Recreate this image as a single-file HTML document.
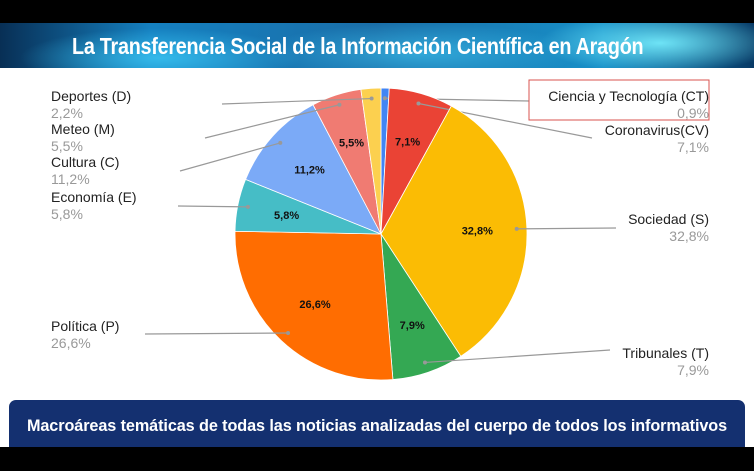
<!DOCTYPE html>
<html><head><meta charset="utf-8">
<style>
body{margin:0;width:754px;height:471px;overflow:hidden;background:#fff;font-family:"Liberation Sans",sans-serif;position:relative}
.blk{position:absolute;left:0;width:754px;background:#000}
#hdr{position:absolute;left:0;top:23px;width:754px;height:45px;
background:radial-gradient(ellipse 120px 30px at 660px 20px,rgba(120,240,255,.9),transparent),radial-gradient(ellipse 140px 30px at 160px 35px,rgba(60,200,245,.8),transparent),radial-gradient(ellipse 160px 30px at 420px 30px,rgba(60,190,235,.7),transparent),linear-gradient(90deg,#082f55,#1580c0 20%,#1a6ea8 50%,#1890c8 80%,#083a66);}
#title{position:absolute;left:72px;top:33px;color:#fff;font:bold 23px "Liberation Sans",sans-serif;white-space:nowrap;transform-origin:left top;transform:scaleX(0.86);letter-spacing:-0.3px}
#ban{position:absolute;left:9px;top:400px;width:736px;height:55px;background:#143070;border-radius:7px}
#bt{position:absolute;left:0;top:416px;width:754px;text-align:center;color:#fff;font:bold 16.6px "Liberation Sans",sans-serif;letter-spacing:-0.1px;transform:scaleX(0.978)}
</style></head><body>
<div class="blk" style="top:0;height:23px"></div>
<div id="hdr"></div>
<div id="title">La Transferencia Social de la Información Científica en Aragón</div>
<svg id="chart" width="754" height="471" style="position:absolute;left:0;top:0"></svg>
<div id="ban"></div>
<div id="bt">Macroáreas temáticas de todas las noticias analizadas del cuerpo de todos los informativos</div>
<div class="blk" style="top:447px;height:24px"></div>
<script>
const categories=["Ciencia y Tecnología (CT)","Coronavirus(CV)","Sociedad (S)","Tribunales (T)","Política (P)","Economía (E)","Cultura (C)","Meteo (M)","Deportes (D)"];
const values=[0.9,7.1,32.8,7.9,26.6,5.8,11.2,5.5,2.2];
const valueLabels=["0,9%","7,1%","32,8%","7,9%","26,6%","5,8%","11,2%","5,5%","2,2%"];
const colors=["#4285f4","#ea4335","#fbbc04","#34a853","#ff6d01","#46bdc6","#7baaf7","#f07b72","#fcd04f"];
// label layout (positions, not data)
const side=["r","r","r","r","l","l","l","l","l"];
const labY=[96,130,219,353,326,197,162,129,96];
const lineEnd=[[529,101],[592,138],[616,228],[610,350],[145,334],[178,206],[180,171],[205,138],[222,104]];
const svg=document.getElementById('chart');
const NS="http://www.w3.org/2000/svg";
const cx=381,cy=234,R=146;
const total=values.reduce((a,b)=>a+b,0);
function pt(a,r){return [cx+r*Math.sin(a),cy-r*Math.cos(a)];}
function mk(t,at){const e=document.createElementNS(NS,t);for(const k in at)e.setAttribute(k,at[k]);svg.appendChild(e);return e;}
let acc=0;
values.forEach((v,i)=>{
 const a0=acc/total*2*Math.PI;acc+=v;const a1=acc/total*2*Math.PI;
 const p0=pt(a0,R),p1=pt(a1,R);
 const s=mk('path',{d:`M${cx},${cy}L${p0[0]},${p0[1]}A${R},${R} 0 ${a1-a0>Math.PI?1:0} 1 ${p1[0]},${p1[1]}Z`,fill:colors[i],stroke:'#fff','stroke-width':0.8});
 
 
 const am=(a0+a1)/2;
 if(v>=5){const lp=pt(am,R*0.66);
  const t=mk('text',{x:lp[0],y:lp[1]+4,'text-anchor':'middle','font-size':11,'font-weight':'bold',fill:'#111'});
  t.textContent=valueLabels[i];
  
  }
 const d=pt(am,R*0.93);
 const ln=mk('line',{x1:d[0],y1:d[1],x2:lineEnd[i][0],y2:lineEnd[i][1],stroke:'#999','stroke-width':1.2});
 
 
 const dot=mk('circle',{cx:d[0],cy:d[1],r:2,fill:'#999'});
 
 
 const right=side[i]==='r';
 const x=right?709:51,anc=right?'end':'start';
 const n=mk('text',{x:x,y:labY[i]+5,'text-anchor':anc,'font-size':14,fill:'#222'});
 n.textContent=categories[i];
 
 
 const pv=mk('text',{x:x,y:labY[i]+22,'text-anchor':anc,'font-size':14,fill:'#999'});
 pv.textContent=valueLabels[i];
 
 
});
const box=mk('rect',{x:529,y:80,width:180,height:40,fill:'none',stroke:'#d9534f','stroke-width':1});


</script>
</body></html>
